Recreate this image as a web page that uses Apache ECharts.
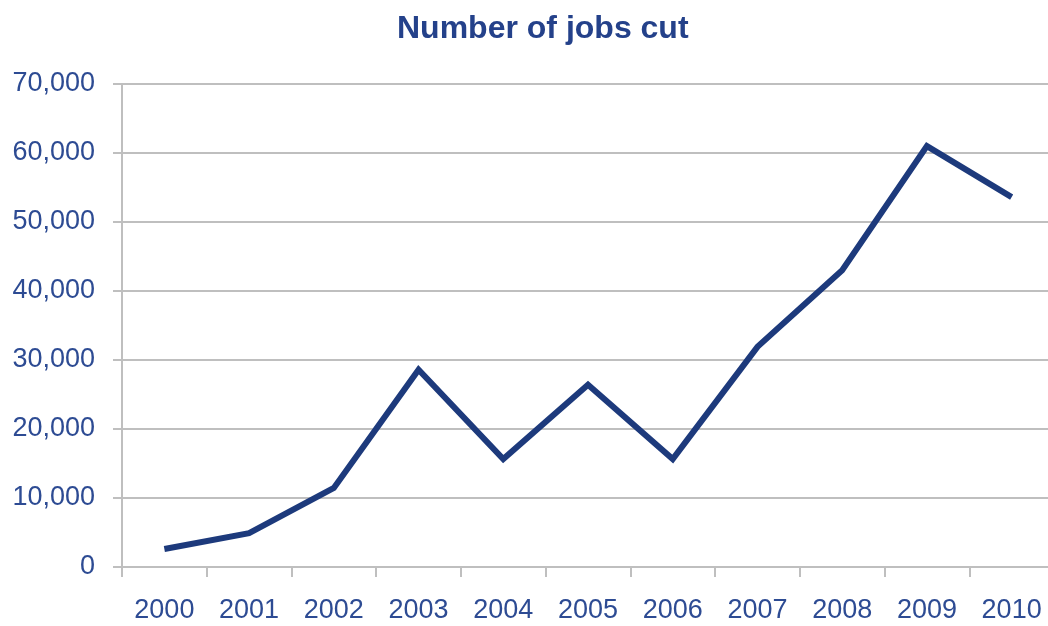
<!DOCTYPE html>
<html>
<head>
<meta charset="utf-8">
<script src="https://cdn.jsdelivr.net/npm/echarts@6/dist/echarts.min.js"></script>
<style>
  html, body { margin: 0; padding: 0; background: #fff; }
  #chart { width: 1048px; height: 626px; }
</style>
</head>
<body>
<div id="chart"></div>
<script>
// 数据
const years = ['2000', '2001', '2002', '2003', '2004', '2005', '2006', '2007', '2008', '2009', '2010'];
const jobsCut = [2600, 4900, 11450, 28600, 15650, 26400, 15650, 31900, 43000, 61000, 53600];
const yTicks = [0, 10000, 20000, 30000, 40000, 50000, 60000, 70000];

const FONT = '"Liberation Sans", Arial, sans-serif';
const TEXT = '#2d4b93';
const GRID = '#bfbfbf';

const chart = echarts.init(document.getElementById('chart'));

chart.setOption({
    backgroundColor: '#fff',
    animation: false,
    title: {
        text: 'Number of jobs cut',
        left: 392,
        top: 8,
        textStyle: {
            fontFamily: FONT,
            fontSize: 32,
            fontWeight: 'bold',
            color: '#24418a'
        }
    },
    grid: {
        left: 122,
        right: -6,
        top: 84,
        bottom: 59,
        outerBoundsMode: 'none'
    },
    xAxis: {
        type: 'category',
        data: years,
        boundaryGap: true,
        axisLine: { lineStyle: { color: GRID, width: 2 } },
        axisTick: { show: true, length: 10, lineStyle: { color: GRID, width: 2 } },
        axisLabel: {
            interval: 0,
            fontFamily: FONT,
            fontSize: 27,
            color: TEXT,
            margin: 30
        }
    },
    yAxis: {
        type: 'value',
        min: yTicks[0],
        max: yTicks[yTicks.length - 1],
        interval: 10000,
        axisLine: { show: true, lineStyle: { color: GRID, width: 2 } },
        axisTick: { show: true, length: 9, lineStyle: { color: GRID, width: 2 } },
        splitLine: { lineStyle: { color: GRID, width: 2 } },
        axisLabel: {
            fontFamily: FONT,
            fontSize: 27,
            color: TEXT,
            margin: 27,
            formatter: v => v.toLocaleString('en-US')
        }
    },
    series: [{
        type: 'line',
        data: jobsCut,
        symbol: 'none',
        lineStyle: { color: '#1d3a7c', width: 6, join: 'miter', cap: 'butt' }
    }]
});
</script>
</body>
</html>
